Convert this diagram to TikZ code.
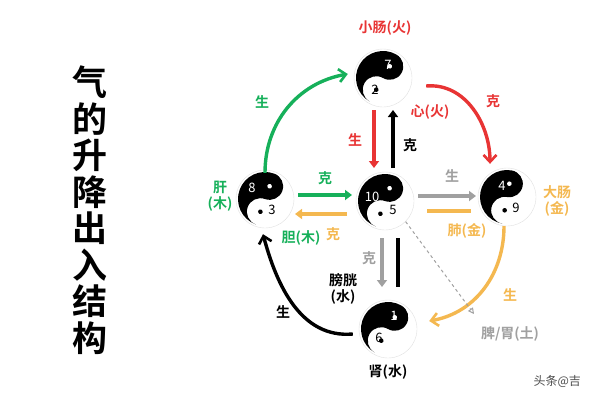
\documentclass[tikz,border=0pt]{standalone}
\usepackage{fontspec}
\setmainfont{Noto Sans CJK SC}
\newfontfamily\cjkbold{Noto Sans CJK SC Bold}
\usetikzlibrary{arrows.meta}
\definecolor{wgreen}{RGB}{22,176,90}
\definecolor{wred}{RGB}{232,52,52}
\definecolor{worange}{RGB}{244,184,80}
\definecolor{wgray}{RGB}{160,160,160}
\tikzset{
  yy/.style={circle,minimum size=58pt,inner sep=0pt,fill=white,draw=black!12},
  lbl/.style={font=\cjkbold\fontsize{14}{16}\selectfont,inner sep=1pt},
  num/.style={font=\fontsize{13}{13}\selectfont,inner sep=0pt},
  flow/.style={line width=3.4pt,-{Straight Barb[length=7pt,width=13pt,line width=2.6pt]}},
  bar/.style={line width=3.4pt,-{Triangle[length=7pt,width=10pt]}},
}
% yin-yang disc inside a named node
\newcommand{\yinyang}[2]{%
  \begin{scope}[shift={(#1.center)},rotate=#2]
    \fill[black] (0,27) arc (90:270:27) arc (-90:90:13.5) arc (270:90:13.5) -- cycle;
    \fill[white] (0,-13.5) circle (2.3pt);
    \fill[black] (0,13.5) circle (2.3pt);
  \end{scope}}
\begin{document}
\begin{tikzpicture}[x=1pt,y=-1pt,>=latex]
  \useasboundingbox (0,0) rectangle (600,400);
  % title
  \node[font=\cjkbold\fontsize{35}{36.5}\selectfont,align=center] (title) at (90,210)
    {气\\的\\升\\降\\出\\入\\结\\构};
  % discs
  \node[yy] (fire) at (383,78) {};
  \node[yy] (wood) at (265,199) {};
  \node[yy] (earth) at (385,201) {};
  \node[yy] (metal) at (507,197) {};
  \node[yy] (water) at (388,329) {};
  \yinyang{fire}{-30}
  \yinyang{wood}{-20}
  \yinyang{earth}{-20}
  \yinyang{metal}{-10}
  \yinyang{water}{-30}
  \node[num,white] at (388,65) {7};
  \node[num,black] at (375,90) {2};
  \node[num,white] at (252,188) {8};
  \node[num,black] at (272,210) {3};
  \node[num,white] at (372,197) {10};
  \node[num,black] at (393,210) {5};
  \node[num,white] at (502,186) {4};
  \node[num,black] at (516,208) {9};
  \node[num,white] at (394,316) {1};
  \node[num,black] at (379,338) {6};
  % labels
  \node[lbl,wred] (tfire) at (385,28) {小肠(火)};
  \node[lbl,wred] (tfire2) at (430,112) {心(火)};
  \node[lbl,wgreen,align=center] (twood) at (220,196) {肝\\(木)};
  \node[lbl,wgreen] (twood2) at (301,238) {胆(木)};
  \node[lbl,worange,align=center] (tmetal) at (557,201) {大肠\\(金)};
  \node[lbl,worange] (tmetal2) at (467,231) {肺(金)};
  \node[lbl,align=center] (twater) at (343,289) {膀胱\\(水)};
  \node[lbl] (twater2) at (388,372) {肾(水)};
  \node[lbl,wgray] (tearth) at (510,334) {脾/胃(土)};
  \node[lbl,wgreen] at (262,102) {生};
  \node[lbl,wred] at (493,101) {克};
  \node[lbl,wred] at (355,140) {生};
  \node[lbl] at (410,145) {克};
  \node[lbl,wgreen] at (325,178) {克};
  \node[lbl,worange] at (333,234) {克};
  \node[lbl,wgray] at (452,176) {生};
  \node[lbl,wgray] at (369,258) {克};
  \node[lbl] at (283,312) {生};
  \node[lbl,worange] at (510,295) {生};
  \node[font=\fontsize{12}{12}\selectfont,black!70,anchor=west] (mark) at (530,381) {头条@吉};
  % cycle arrows
  \draw[flow,wgreen] ([yshift=-3pt]wood.north) to[out=90,in=190] ([shift={(-6,-4)}]fire.west);
  \draw[flow,wred] ([shift={(14,8)}]fire.east) to[out=5,in=90] ([shift={(-17,-4)}]metal.north);
  \draw[flow,worange] ([xshift=-3pt]metal.south) to[out=-90,in=10] ([shift={(12,-8)}]water.east);
  \draw[flow] ([shift={(-6,5)}]water.west) to[out=185,in=-75] ([shift={(-2,6)}]wood.south);
  % cross arrows
  \draw[bar,wred] (374,110) -- (374,168);
  \draw[bar] (393,168) -- (393,110);
  \draw[bar,wgreen] (298,195) -- (352,195);
  \draw[bar,worange] (347,214) -- (295,214);
  \draw[bar,wgray] (418,196) -- (476,196);
  \draw[line width=3.4pt,worange] (427,211) -- (471,211);
  \draw[bar,wgray] (382,238) -- (382,287);
  \draw[line width=3.4pt] (398,238) -- (398,287);
  \draw[wgray,dashed,line width=1pt,-{Triangle[open,length=6pt,width=6pt]}] (earth.south east) -- (474,314);
\end{tikzpicture}
\end{document}
